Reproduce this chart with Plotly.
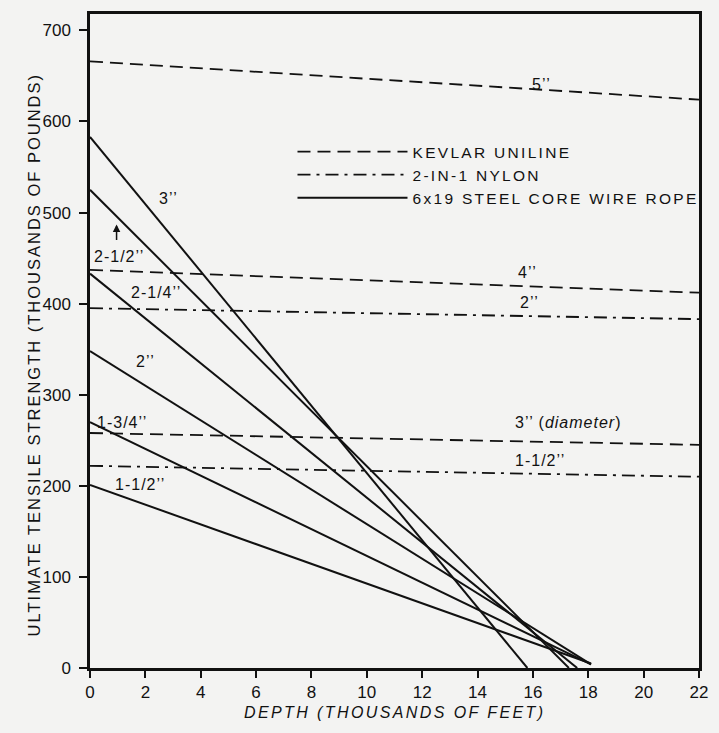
import plotly.graph_objects as go

# ---------------- data (thousands of feet / thousands of pounds) ----------------
depth_synthetic = [0, 22]
kevlar_5in = [666, 624]
kevlar_4in = [437, 412]
kevlar_3in = [258, 245]
nylon_2in = [395, 383]
nylon_1_5in = [222, 210]

steel_3in_x = [0, 15.8]
steel_3in_y = [583, 0]
steel_2_5in_x = [0, 17.3]
steel_2_5in_y = [525, 0]
steel_2_25in_x = [0, 17.6]
steel_2_25in_y = [433, 0]
steel_2in_x = [0, 18.1]
steel_2in_y = [348, 4]
steel_1_75in_x = [0, 18.1]
steel_1_75in_y = [270, 4]
steel_1_5in_x = [0, 18.1]
steel_1_5in_y = [201, 5]

x_ticks = [0, 2, 4, 6, 8, 10, 12, 14, 16, 18, 20, 22]
y_ticks = [0, 100, 200, 300, 400, 500, 600, 700]

FONT = "Liberation Sans, Arial, sans-serif"
INK = "#111111"
BG = "#f3f3f2"
KEV_DASH = "13px,7px"
NYL_DASH = "13px,6px,3px,6px"
IN = "’’"  # inch mark as drawn in the original


def ls(text, px):
    return f'<span style="letter-spacing:{px}px">{text}</span>'


fig = go.Figure()

line_kw = dict(mode="lines", hoverinfo="skip")

# Kevlar
for i, ys in enumerate([kevlar_5in, kevlar_4in, kevlar_3in]):
    fig.add_trace(go.Scatter(x=depth_synthetic, y=ys, name=ls("KEVLAR UNILINE", 2.3),
                             legendgroup="kev", showlegend=(i == 0),
                             line=dict(color=INK, width=1.8, dash=KEV_DASH), **line_kw))
# Nylon
for i, ys in enumerate([nylon_2in, nylon_1_5in]):
    fig.add_trace(go.Scatter(x=depth_synthetic, y=ys, name=ls("2-IN-1 NYLON", 2.3),
                             legendgroup="nyl", showlegend=(i == 0),
                             line=dict(color=INK, width=1.8, dash=NYL_DASH), **line_kw))
# Steel
steel = [(steel_3in_x, steel_3in_y), (steel_2_5in_x, steel_2_5in_y),
         (steel_2_25in_x, steel_2_25in_y), (steel_2in_x, steel_2in_y),
         (steel_1_75in_x, steel_1_75in_y), (steel_1_5in_x, steel_1_5in_y)]
for i, (xs, ys) in enumerate(steel):
    fig.add_trace(go.Scatter(x=xs, y=ys, name=ls("6x19 STEEL CORE WIRE ROPE", 2.3),
                             legendgroup="steel", showlegend=(i == 0),
                             line=dict(color=INK, width=2.0), **line_kw))

# curve labels
labels = [
    ("5" + IN, 16.3, 641), ("3" + IN, 2.85, 515), ("2-1/2" + IN, 1.05, 452),
    ("2-1/4" + IN, 2.38, 412), ("2" + IN, 2.02, 337), ("1-3/4" + IN, 1.16, 270),
    ("1-1/2" + IN, 1.81, 201), ("4" + IN, 15.8, 434), ("2" + IN, 15.87, 401),
    ("3" + IN + " (<i>diameter</i>)", 17.25, 269), ("1-1/2" + IN, 16.26, 228),
]
for t, x, y in labels:
    fig.add_annotation(x=x, y=y, xref="x", yref="y", text=ls(t, 1.0), showarrow=False,
                       font=dict(family=FONT, size=16, color=INK))

# small arrow pointing at 2-1/2" curve
fig.add_annotation(x=0.96, y=487, xref="x", yref="y", text="", showarrow=True,
                   ax=0, ay=17, arrowhead=2, arrowsize=1, arrowwidth=1.5, arrowcolor=INK)

# axis titles
fig.add_annotation(x=0.5, y=-0.068, xref="paper", yref="paper", yanchor="middle",
                   text="<i>" + ls("DEPTH (THOUSANDS OF FEET)", 2.4) + "</i>", showarrow=False,
                   font=dict(family=FONT, size=16, color=INK))
fig.add_annotation(x=-0.11, y=0.478, xref="paper", yref="paper", textangle=-90,
                   text=ls("ULTIMATE TENSILE STRENGTH (THOUSANDS OF POUNDS)", 2.0), showarrow=False,
                   font=dict(family=FONT, size=16.5, color=INK))

axis_common = dict(showline=True, linecolor=INK, linewidth=2.5, mirror=True, showgrid=False,
                   zeroline=False, ticks="outside", tickcolor=INK, tickwidth=2,
                   tickfont=dict(family=FONT, size=17, color=INK))

fig.update_layout(
    width=719, height=733,
    margin=dict(l=90, r=12, t=11, b=65),
    paper_bgcolor=BG, plot_bgcolor=BG,
    xaxis=dict(range=[0, 22], tickvals=x_ticks, ticklen=7, **axis_common),
    yaxis=dict(range=[0, 718], tickvals=y_ticks, ticklen=8, ticklabelstandoff=5, **axis_common),
    showlegend=True,
    legend=dict(x=0.3325, y=0.815, xanchor="left", yanchor="top", bgcolor="rgba(0,0,0,0)",
                itemwidth=110, tracegroupgap=0,
                font=dict(family=FONT, size=15.5, color=INK)),
)

fig.write_html("out.html")
